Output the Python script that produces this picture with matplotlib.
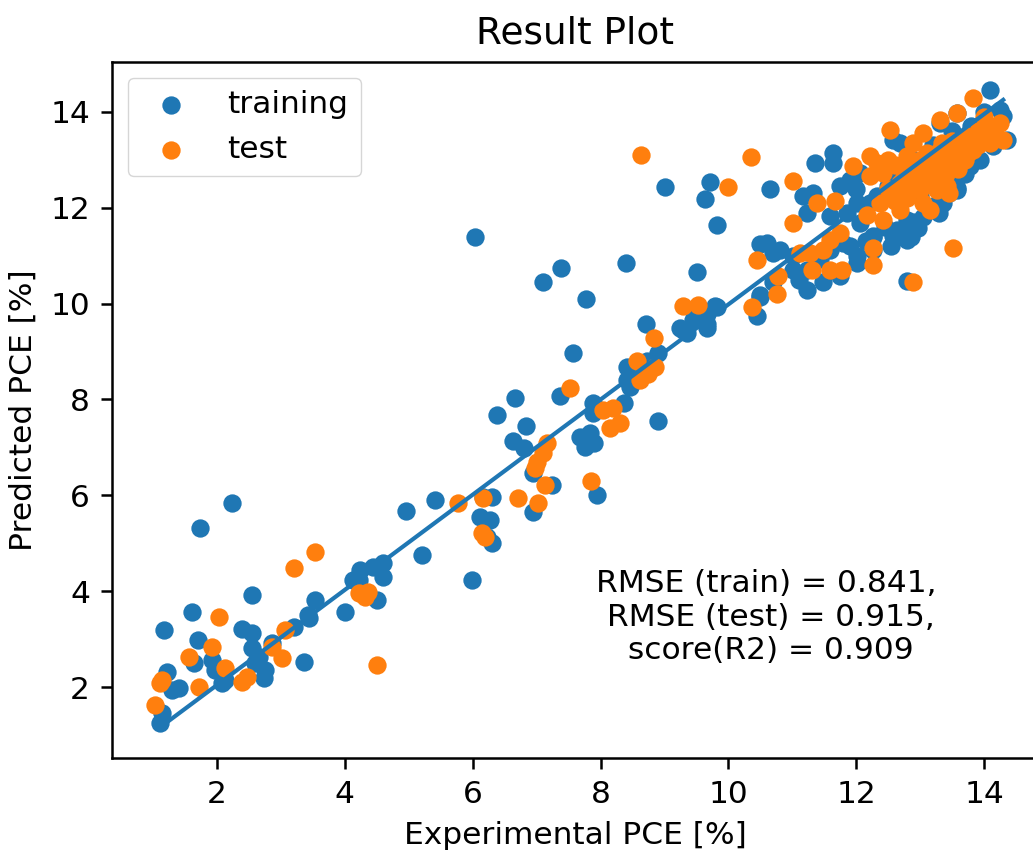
import matplotlib
matplotlib.use("Agg")
import matplotlib.pyplot as plt

# training points (blue)
train_x = [
    1.11, 1.14, 1.17, 1.22, 1.30, 1.41, 1.61, 1.64, 1.70, 1.73, 1.92, 1.97, 2.08, 2.13,
    2.23, 2.39, 2.55, 2.55, 2.55, 2.60, 2.66, 2.74, 2.75, 2.86, 3.20, 3.36, 3.42, 3.44,
    3.53, 4.00, 4.13, 4.22, 4.24, 4.44, 4.50, 4.60, 4.60,
    4.96, 5.21, 5.41, 5.99, 6.04, 6.12, 6.16, 6.22, 6.27, 6.30, 6.30, 6.38, 6.63, 6.66,
    6.80, 6.84, 6.95, 6.95, 7.10, 7.24, 7.37, 7.38, 7.57, 7.68, 7.77, 7.84, 7.88, 7.88,
    8.40, 8.36, 8.42, 8.46, 8.42, 8.57, 8.71, 8.73, 8.90, 8.90, 9.01, 9.25, 9.29, 9.36,
    9.45, 9.51, 9.51, 9.64, 9.67, 9.67, 9.72, 9.67, 9.79, 9.82, 9.82, 10.45, 10.50,
    10.50, 10.65, 10.70, 7.95, 7.75, 7.90,
    10.50, 10.60, 10.70, 10.81, 11.01, 11.01, 11.17, 11.23, 11.23, 11.23, 11.33, 11.36,
    11.44, 11.48, 11.59, 11.59, 11.64, 11.64, 11.75, 11.75, 11.80, 11.86, 11.90, 12.02,
    12.02, 12.02, 12.06, 12.06, 12.22, 12.27, 12.27, 12.27, 12.33, 12.49, 12.58, 12.58,
    12.64, 12.69, 12.80, 12.80, 12.80, 12.85, 12.96, 13.00, 13.11, 13.20, 13.31, 13.36,
    13.52, 13.58, 13.58, 13.58, 13.78, 13.94, 14.10, 14.14, 14.25, 14.30, 14.36,
    12.50, 12.90, 13.20, 13.50, 13.80, 14.00, 13.00, 13.40, 12.40, 12.00,
    12.70, 12.90, 13.05, 12.55, 13.30, 12.45, 11.90, 11.40, 11.10, 12.15, 13.70, 13.45,
]
train_y = [
    1.25, 1.46, 3.19, 2.31, 1.94, 1.98, 3.56, 2.50, 2.98, 5.31, 2.56, 2.35, 2.08, 2.15,
    5.85, 3.21, 3.92, 3.12, 2.81, 2.50, 2.63, 2.19, 2.35, 2.92, 3.25, 2.52, 3.50, 3.44,
    3.81, 3.56, 4.23, 4.23, 4.44, 4.50, 3.81, 4.58, 4.29,
    5.67, 4.75, 5.90, 4.23, 11.38, 5.54, 5.96, 5.13, 5.48, 5.96, 5.00, 7.67, 7.13, 8.04,
    6.98, 7.44, 6.46, 5.65, 10.44, 6.21, 8.08, 10.75, 8.97, 7.21, 10.10, 7.29, 7.92, 7.71,
    10.85, 7.92, 8.40, 8.25, 8.67, 8.60, 9.58, 8.81, 7.56, 8.96, 12.44, 9.50, 9.44, 9.38,
    9.65, 10.65, 9.71, 12.18, 9.79, 9.50, 12.53, 9.58, 9.96, 11.63, 9.92, 9.75, 10.13,
    11.25, 12.40, 11.06, 6.00, 7.00, 7.10,
    10.17, 11.27, 10.44, 11.12, 11.00, 10.71, 12.25, 10.71, 10.29, 11.90, 12.31, 12.94,
    10.92, 10.44, 11.12, 11.83, 13.15, 12.94, 12.46, 10.58, 11.27, 11.90, 12.58, 11.00,
    10.85, 12.10, 12.73, 11.69, 12.10, 11.42, 11.12, 11.38, 12.25, 12.46, 13.42, 11.42,
    11.54, 13.35, 11.75, 11.33, 10.48, 11.38, 11.58, 12.25, 11.96, 12.04, 13.77, 12.10,
    12.58, 13.98, 12.38, 12.42, 12.88, 13.00, 14.46, 13.29, 14.04, 13.92, 13.42,
    12.70, 13.00, 13.30, 13.60, 13.70, 14.00, 12.70, 12.90, 12.90, 12.40,
    11.45, 11.70, 11.80, 11.20, 11.90, 11.60, 11.20, 11.00, 10.50, 11.30, 12.70, 12.30,
]

# test points (orange)
test_x = [
    1.03, 1.11, 1.14, 1.56, 1.72, 1.92, 2.03, 2.13, 2.39, 2.47, 2.86, 3.02, 3.06, 3.20,
    3.53, 4.22, 4.32, 4.36, 4.50, 5.77, 6.15, 6.19, 6.16, 6.71, 6.98, 7.00, 7.02, 7.10,
    7.13, 7.16, 7.52, 7.85, 8.04, 8.15, 8.20, 8.31, 8.57, 8.62, 8.63, 8.74, 8.86, 8.84,
    9.29, 9.53, 10.00, 10.35, 10.37, 10.45, 10.76, 10.78,
    11.01, 11.01, 11.12, 11.28, 11.31, 11.39, 11.48, 11.59, 11.59, 11.67, 11.75, 11.78,
    11.95, 12.17, 12.22, 12.22, 12.27, 12.27, 12.33, 12.38, 12.42, 12.42, 12.49, 12.53,
    12.58, 12.69, 12.69, 12.80, 12.89, 12.89, 12.89, 13.00, 13.05, 13.05, 13.11, 13.11,
    13.16, 13.16, 13.27, 13.31, 13.31, 13.31, 13.42, 13.42, 13.52, 13.58, 13.58, 13.74,
    13.83, 13.83, 14.10, 14.25, 14.30,
    12.70, 12.95, 13.20, 13.45, 13.60, 13.70, 13.90, 14.00, 14.15, 12.50, 12.80, 13.30,
    13.50, 13.00, 12.60, 13.90,
    13.10, 13.25, 13.40, 13.55, 13.65, 13.75, 13.20, 12.90, 13.05, 13.35, 13.95, 14.05,
    12.75, 13.45, 12.60,
]
test_y = [
    1.62, 2.08, 2.15, 2.63, 2.00, 2.83, 3.46, 2.40, 2.10, 2.21, 2.83, 2.60, 3.19, 4.48,
    4.81, 3.96, 3.87, 3.98, 2.45, 5.85, 5.21, 5.13, 5.94, 5.94, 6.56, 6.69, 5.83, 6.88,
    6.21, 7.10, 8.23, 6.30, 7.77, 7.40, 7.83, 7.50, 8.81, 8.40, 13.10, 8.54, 8.67, 9.29,
    9.94, 9.98, 12.43, 13.05, 9.92, 10.90, 10.20, 10.58,
    12.56, 11.69, 11.06, 11.06, 10.71, 12.10, 11.12, 11.33, 10.71, 12.15, 11.48, 10.71,
    12.88, 11.85, 13.08, 12.67, 11.17, 10.81, 12.94, 12.10, 12.73, 11.75, 13.00, 13.63,
    12.25, 12.52, 11.96, 13.08, 13.35, 12.79, 10.46, 12.38, 13.56, 12.10, 13.15, 12.58,
    12.94, 11.96, 12.38, 13.83, 13.21, 12.79, 12.94, 12.46, 11.15, 13.98, 13.21, 13.50,
    14.29, 13.21, 13.35, 13.77, 13.42,
    12.90, 12.60, 12.70, 13.10, 12.80, 13.00, 13.60, 13.90, 13.60, 12.40, 12.20, 12.60,
    13.40, 13.00, 12.90, 13.30,
    12.50, 12.85, 12.70, 13.00, 13.35, 13.15, 13.00, 12.45, 12.75, 13.35, 13.50, 13.70,
    12.65, 12.30, 12.15,
]

# regression line
fit_x = [1.1, 14.3]
fit_y = [1.15, 14.25]

metrics_text = "RMSE (train) = 0.841,\n RMSE (test) = 0.915,\n score(R2) = 0.909"

plt.rcParams.update({
    "font.size": 22.5,
    "axes.linewidth": 1.8,
    "xtick.major.size": 7.9,
    "ytick.major.size": 7.9,
    "xtick.major.width": 1.8,
    "ytick.major.width": 1.8,
    "xtick.major.pad": 7.9,
    "ytick.major.pad": 7.9,
})

fig = plt.figure(figsize=(10.33, 8.5), dpi=100)
ax = fig.add_axes([112 / 1033, (850 - 758) / 850, (1039 - 112) / 1033, 696 / 850])

ax.scatter(train_x, train_y, s=174, linewidths=0, color="#1f77b4", label="training")
ax.scatter(test_x, test_y, s=174, linewidths=0, color="#ff7f0e", label="test")
ax.plot(fit_x, fit_y, color="#1f77b4", lw=3.0)

ax.set_xlim(0.357, 14.86)
ax.set_ylim(0.52, 15.04)
ax.set_xticks([2, 4, 6, 8, 10, 12, 14])
ax.set_yticks([2, 4, 6, 8, 10, 12, 14])

ax.set_title("Result Plot", fontsize=27, pad=13.5)
ax.set_xlabel("Experimental PCE [%]", labelpad=9)
ax.set_ylabel("Predicted PCE [%]", labelpad=9)

ax.text(10.59, 3.46, metrics_text, ha="center", va="center", multialignment="center")

ax.legend(loc="upper left")

fig.savefig("out.png", dpi=100)
